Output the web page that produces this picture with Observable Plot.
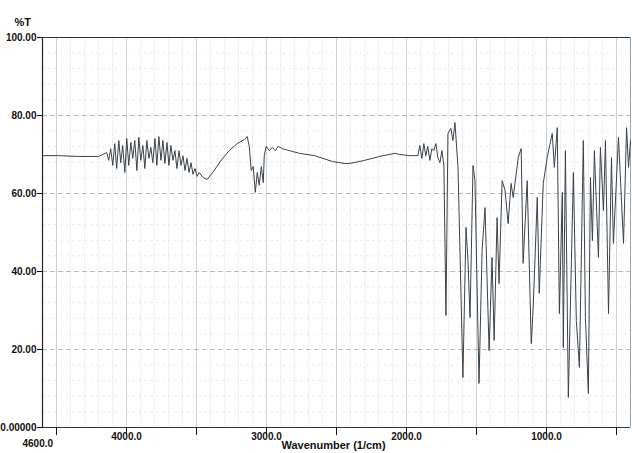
<!DOCTYPE html>
<html>
<head>
<meta charset="utf-8">
<script src="https://cdn.jsdelivr.net/npm/d3@7"></script>
<script src="https://cdn.jsdelivr.net/npm/@observablehq/plot@0.6"></script>
<style>
  html, body { margin: 0; padding: 0; background: #fff; }
  #chart { width: 632px; height: 453px; }
  svg { display: block; }
</style>
</head>
<body>
<div id="chart"></div>
<script>
// Wavenumber (1/cm)
const wavenumber = [4600,4485,4342,4199,4141,4127,4113,4098,4084,4070,4055,4041,4027,4012,3998,3984,3969,3955,3941,3926,3912,3898,3883,3869,3855,3840,3826,3812,3797,3783,3769,3754,3740,3726,3711,3697,3683,3668,3654,3640,3625,3611,3597,3582,3568,3553,3539,3525,3510,3496,3482,3453,3424,3374,3324,3267,3209,3159,3138,3123,3109,3095,3080,3066,3052,3037,3023,3016,3002,2980,2959,2937,2916,2887,2837,2765,2657,2528,2442,2407,2299,2192,2084,2048,1977,1919,1905,1890,1876,1862,1848,1833,1819,1805,1790,1776,1761,1747,1733,1718,1704,1683,1668,1654,1632,1597,1575,1561,1546,1525,1511,1482,1460,1439,1410,1389,1374,1353,1339,1317,1296,1274,1253,1238,1202,1181,1167,1138,1109,1095,1066,1052,1023,995,959,944,923,908,887,880,865,844,822,808,787,765,737,722,701,686,672,658,629,615,593,579,557,536,522,486,450,428,414,400];
// Transmittance (%T)
const transmittance = [69.7,69.7,69.5,69.5,70.5,68.5,71.5,67.2,72.8,66.4,73.6,67.9,72.3,65.4,74.1,67.2,73.1,69.0,73.6,65.9,74.4,68.5,72.3,66.4,73.6,69.0,71.8,67.9,74.1,67.2,74.6,68.5,73.6,67.7,73.1,67.2,72.3,68.5,71.0,66.4,71.0,67.2,69.7,65.9,69.0,65.4,67.9,64.9,66.4,64.4,65.4,64.1,63.6,65.9,68.5,71.0,72.8,73.8,74.6,72.1,65.9,66.9,60.3,65.4,62.1,66.9,62.8,69.7,72.1,71.0,71.8,71.0,72.1,71.5,71.0,70.3,69.7,68.2,67.7,67.7,68.5,69.5,70.3,70.0,69.7,69.7,72.3,69.0,72.8,69.7,72.1,68.5,71.5,71.0,72.8,69.2,67.9,71.0,67.2,28.7,75.4,76.7,73.6,78.2,66.7,12.8,51.3,42.8,28.2,67.2,63.3,11.3,45.4,56.4,19.7,43.6,22.3,53.8,36.9,63.3,60.8,52.3,62.6,59.0,69.2,71.5,42.1,63.3,21.5,30.8,59.0,34.4,62.6,69.2,75.4,66.7,76.9,29.2,60.3,20.5,71.0,7.7,42.8,65.4,27.4,15.4,73.6,28.2,8.7,64.1,47.9,71.0,43.6,71.8,55.6,73.6,29.2,69.2,47.2,74.4,47.2,76.9,66.7,73.6];

const yTicks = [0, 20, 40, 60, 80, 100];
const xTicks = [4500, 4000, 3500, 3000, 2500, 2000, 1500, 1000, 500];
const xLabeled = [4000, 3000, 2000, 1000];
const xMinorGrid = [4500,4400,4300,4200,4100,4000,3900,3800,3700,3600,3500,3400,3300,3200,3100,3000,2900,2800,2700,2600,2500,2400,2300,2200,2100,2000,1900,1800,1700,1600,1500,1400,1300,1200,1100,1000,900,800,700,600,500];
const yMinorGrid = [4,8,12,16,24,28,32,36,44,48,52,56,64,68,72,76,84,88,92,96];

const data = wavenumber.map((w, i) => ({ w, t: transmittance[i] }));

const font = "'Liberation Sans', Arial, sans-serif";

const chart = Plot.plot({
  width: 632,
  height: 453,
  marginLeft: 42,
  marginRight: 2,
  marginTop: 37,
  marginBottom: 26,
  style: { fontFamily: font, fontSize: "10px", fontWeight: "bold", background: "#fff", color: "#111" },
  x: { domain: [4600, 400] },
  y: { domain: [0, 100] },
  marks: [
    Plot.gridX(xMinorGrid, { stroke: "#e6ebef", strokeOpacity: 1, strokeWidth: 0.7 }),
    Plot.gridY(yMinorGrid, { stroke: "#dcdcdc", strokeOpacity: 1, strokeDasharray: "3,3", strokeWidth: 0.6 }),
    Plot.gridX(xTicks, { stroke: "#c3ced6", strokeOpacity: 1, strokeWidth: 0.9 }),
    Plot.gridY([20, 40, 60, 80], { stroke: "#a8a8a8", strokeOpacity: 1, strokeDasharray: "5,3", strokeWidth: 0.8 }),
    Plot.ruleX([400], { stroke: "#9aa5ae", strokeWidth: 1 }),
    Plot.ruleY([0, 100], { stroke: "#333", strokeWidth: 1.2 }),
    Plot.ruleX([4600], { stroke: "#222", strokeWidth: 1.2 }),
    Plot.axisY(yTicks, {
      tickSize: 5, tickPadding: 1, label: null,
      tickFormat: d => d === 0 ? "0.00000" : d.toFixed(2),
      fontWeight: "bold", fontSize: 10
    }),
    Plot.axisX(xTicks, {
      tickSize: 8, tickPadding: -3, label: null,
      tickFormat: d => xLabeled.includes(d) ? d.toFixed(1) : "",
      fontWeight: "bold", fontSize: 10
    }),
    Plot.text(["4600.0"], { frameAnchor: "bottom-left", dx: -20, dy: 19, fontWeight: "bold", fontSize: 10 }),
    Plot.text(["%T"], { frameAnchor: "top-left", dx: -28, dy: -19, textAnchor: "start", fontWeight: "bold", fontSize: 11 }),
    Plot.text(["Wavenumber (1/cm)"], { frameAnchor: "bottom", dx: -3, dy: 21, fontWeight: "bold", fontSize: 11 }),
    Plot.line(data, { x: "w", y: "t", stroke: "#3c4248", strokeWidth: 1 })
  ]
});

document.getElementById("chart").appendChild(chart);
</script>
</body>
</html>
